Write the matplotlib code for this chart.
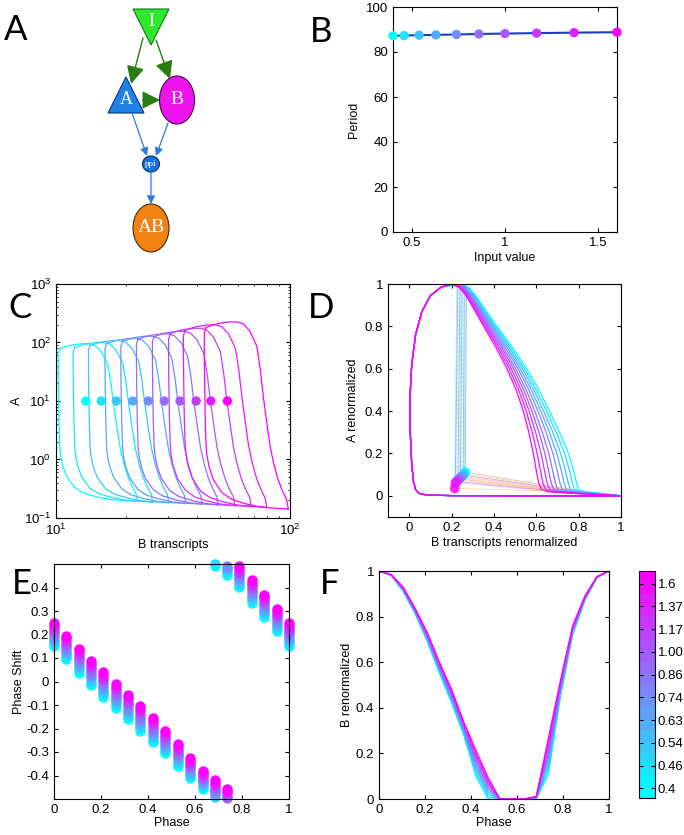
import numpy as np
import matplotlib
matplotlib.use("Agg")
import matplotlib.pyplot as plt
from matplotlib.patches import Polygon, Ellipse, FancyArrowPatch
from matplotlib.colors import Normalize
from matplotlib.cm import ScalarMappable
from matplotlib.ticker import NullFormatter

plt.rcParams['font.family'] = ['Liberation Sans', 'DejaVu Sans']
plt.rcParams['font.size'] = 9
plt.rcParams['xtick.labelsize'] = 9.5
plt.rcParams['ytick.labelsize'] = 9.5
plt.rcParams['axes.unicode_minus'] = False
plt.rcParams['axes.linewidth'] = 0.8
plt.rcParams['xtick.direction'] = 'in'
plt.rcParams['ytick.direction'] = 'in'
plt.rcParams['xtick.top'] = True
plt.rcParams['ytick.right'] = True
plt.rcParams['xtick.major.size'] = 3
plt.rcParams['ytick.major.size'] = 3
plt.rcParams['xtick.minor.size'] = 1.5
plt.rcParams['ytick.minor.size'] = 1.5

# Datos
entradas = [0.4, 0.46, 0.54, 0.63, 0.74, 0.86, 1.00, 1.17, 1.37, 1.6]
etiquetas_entrada = ['0.4', '0.46', '0.54', '0.63', '0.74', '0.86', '1.00', '1.17', '1.37', '1.6']
periodo = [87.2, 87.3, 87.5, 87.6, 87.8, 88.0, 88.2, 88.4, 88.6, 88.8]

# C: ciclos limite (forma base normalizada + extremos de cada ciclo)
ciclo_u = [0.035, 0.16, 0.30, 0.40, 0.47, 0.55, 0.63, 0.67, 0.707, 0.745, 0.786, 0.83, 0.88,
           0.93, 0.98, 1.0, 0.97, 0.80, 0.66, 0.50, 0.33, 0.22, 0.12, 0.07, 0.045, 0.035,
           0.025, 0.018, 0.015, 0.015, 0.035]
ciclo_v = [0.97, 0.99, 1.0, 1.0, 0.99, 0.95, 0.87, 0.75, 0.60, 0.47, 0.336, 0.24, 0.159,
           0.10, 0.053, 0.0, 0.003, 0.008, 0.014, 0.03, 0.055, 0.09, 0.16, 0.23, 0.29, 0.346,
           0.50, 0.70, 0.85, 0.94, 0.97]
B_izq = [10.1, 11.7, 13.6, 16.0, 18.7, 21.8, 25.5, 29.9, 34.6, 42.5]
B_der = [22.3, 25.9, 30.4, 35.9, 42.2, 49.4, 58.2, 68.4, 79.6, 98.4]
A_max = [95, 100, 108, 117, 128, 140, 155, 175, 200, 225]
A_min = [0.19, 0.185, 0.18, 0.175, 0.17, 0.165, 0.16, 0.155, 0.15, 0.14]
puntos_B = [13.4, 15.6, 18.1, 21.3, 24.8, 29.0, 33.9, 39.7, 45.9, 54.0]

# D: ciclos renormalizados
lado_izq_x = [0.15, 0.10, 0.06, 0.03, 0.012, 0.003, 0.005, 0.012, 0.02, 0.03, 0.045, 0.08, 0.2, 0.5]
lado_izq_y = [0.985, 0.945, 0.87, 0.76, 0.62, 0.45, 0.30, 0.15, 0.07, 0.03, 0.012, 0.004, 0.001, 0.0]
lado_der_y = [1.0, 0.985, 0.95, 0.9, 0.8, 0.7, 0.6, 0.5, 0.4, 0.3, 0.2, 0.12, 0.06, 0.03,
              0.02, 0.013, 0.007, 0.0]
lado_der_magenta = [0.194, 0.235, 0.265, 0.295, 0.352, 0.41, 0.462, 0.505, 0.539, 0.565,
                    0.586, 0.60, 0.612, 0.625, 0.65, 0.75, 0.85, 1.0]
lado_der_cian = [0.24, 0.28, 0.31, 0.345, 0.415, 0.488, 0.555, 0.612, 0.662, 0.71,
                 0.752, 0.776, 0.79, 0.80, 0.83, 0.90, 0.95, 1.0]
mezcla = [0.0, 0.11, 0.22, 0.33, 0.44, 0.56, 0.67, 0.78, 0.89, 1.0]  # cian -> magenta
puntos_D_x = [0.265, 0.26, 0.255, 0.248, 0.242, 0.236, 0.23, 0.224, 0.218, 0.215]
puntos_D_y = [0.112, 0.105, 0.098, 0.092, 0.086, 0.08, 0.074, 0.068, 0.062, 0.035]
tope_D_x = [0.27, 0.265, 0.26, 0.255, 0.25, 0.245, 0.24, 0.235, 0.23, 0.225]
fin_D_x = [0.80, 0.78, 0.76, 0.74, 0.72, 0.70, 0.68, 0.66, 0.64, 0.62]

# E y F: respuesta de fase
fase = [0, 0.053, 0.105, 0.158, 0.21, 0.263, 0.316, 0.368, 0.421, 0.474,
        0.526, 0.579, 0.632, 0.684, 0.737, 0.789, 0.842, 0.895, 0.947, 1.0]
desfase_magenta = [0.249, 0.195, 0.14, 0.088, 0.04, -0.012, -0.056, -0.104, -0.156, -0.21,
                   -0.266, -0.327, -0.379, -0.421, -0.456, -0.508, -0.57, -0.63, -0.69, -0.751]
desfase_cian = [0.150, 0.094, 0.037, -0.016, -0.066, -0.111, -0.16, -0.21, -0.259, -0.304,
                -0.358, -0.411, -0.459, -0.51, -0.546, -0.599, -0.666, -0.725, -0.785, -0.85]
B_magenta = [1.0, 0.985, 0.93, 0.835, 0.73, 0.60, 0.48, 0.34, 0.215, 0.095,
             0.0, 0.0, 0.0, 0.012, 0.27, 0.52, 0.76, 0.89, 0.975, 1.0]
B_cian = [1.0, 0.98, 0.91, 0.81, 0.69, 0.55, 0.42, 0.28, 0.10, 0.0,
          0.0, 0.0, 0.0, 0.0, 0.11, 0.45, 0.72, 0.87, 0.97, 1.0]

colores = plt.cm.cool(np.linspace(0, 1, len(entradas)))

fig = plt.figure(figsize=(6.84, 8.35), dpi=100)
W, H = 684, 835


def caja(x0, y0, x1, y1):
    # pixeles (arriba-izquierda) -> fraccion de figura
    return [x0 / W, 1 - y1 / H, (x1 - x0) / W, (y1 - y0) / H]


# ---- A: red ----
axA = fig.add_axes([0, 0, 1, 1])
axA.set_xlim(0, W)
axA.set_ylim(H, 0)
axA.axis('off')
axA.add_patch(Polygon([(133, 9), (169, 9), (151, 45)], fc='#2ee82e', ec='#127a12', lw=0.8))
axA.add_patch(Polygon([(126, 77), (108, 113), (144, 113)], fc='#1f82ea', ec='#0b3470', lw=0.8))
axA.add_patch(Ellipse((177, 100), 35, 48, fc='#f014f0', ec='#4a004a', lw=0.8))
axA.add_patch(Ellipse((151, 164), 17, 16, fc='#1a72e2', ec='#0a2c60', lw=0.8))
axA.add_patch(Ellipse((151, 228), 36, 48, fc='#f08214', ec='#4a2800', lw=0.8))
fuente_red = dict(family=['Liberation Serif', 'DejaVu Serif'], color='white', ha='center', va='center')
axA.text(151, 22, 'I', fontsize=13, **fuente_red)
axA.text(126, 100, 'A', fontsize=13, **fuente_red)
axA.text(177, 100, 'B', fontsize=14, **fuente_red)
axA.text(151, 164, 'ppi', fontsize=6.5, **fuente_red)
axA.text(151, 228, 'AB', fontsize=14, **fuente_red)
for p0, p1 in [((143, 38), (131, 84)), ((156, 40), (170, 79)), ((143, 100), (160, 100))]:
    axA.add_patch(FancyArrowPatch(p0, p1, arrowstyle='-|>,head_length=1.0,head_width=0.5',
                                  mutation_scale=11, color='#2a7d12', lw=1.0,
                                  shrinkA=0, shrinkB=0))
for p0, p1 in [((132, 113), (147, 156)), ((168, 123), (156, 156)), ((151, 172), (151, 204))]:
    axA.add_patch(FancyArrowPatch(p0, p1, arrowstyle='-|>,head_length=0.6,head_width=0.3',
                                  mutation_scale=8, color='#2a7ae8', lw=0.9,
                                  shrinkA=0, shrinkB=0))

# ---- B: periodo ----
axB = fig.add_axes(caja(393, 7, 617, 232))
axB.plot(entradas, periodo, color='#1f3cbf', lw=1.5, zorder=2)
axB.scatter(entradas, periodo, c=colores, s=45, zorder=3, clip_on=False, edgecolors='none')
axB.set_xlim(0.4, 1.6)
axB.set_ylim(0, 100)
axB.set_xticks([0.5, 1, 1.5])
axB.set_xticklabels(['0.5', '1', '1.5'])
axB.set_yticks([0, 20, 40, 60, 80, 100])
axB.set_xlabel('Input value', labelpad=2)
axB.set_ylabel('Period')

# ---- C: ciclos en log-log ----
axC = fig.add_axes(caja(56, 284, 290, 518))
u = np.array(ciclo_u)
v = np.array(ciclo_v)
for i in range(len(entradas)):
    lb = np.log10(B_izq[i]) + u * (np.log10(B_der[i]) - np.log10(B_izq[i]))
    la = np.log10(A_min[i]) + v * (np.log10(A_max[i]) - np.log10(A_min[i]))
    axC.plot(10 ** lb, 10 ** la, color=colores[i], lw=0.9)
axC.scatter(puntos_B, [10] * len(puntos_B), c=colores, s=45, zorder=3, edgecolors='none')
axC.set_xscale('log')
axC.set_yscale('log')
axC.set_xlim(10, 100)
axC.set_ylim(0.1, 1000)
axC.xaxis.set_minor_formatter(NullFormatter())
axC.yaxis.set_minor_formatter(NullFormatter())
axC.set_xlabel('B transcripts', labelpad=1)
axC.set_ylabel('A', labelpad=1)

# ---- D: ciclos renormalizados ----
axD = fig.add_axes(caja(388, 284, 621, 517))
vert_col = ['#0072BD', '#4DBEEE']
hor_col = ['#D95319', '#EDB120', '#7E2F8E', '#FF44FF', '#EDB120']
for i in range(len(entradas)):
    der = (1 - mezcla[i]) * np.array(lado_der_cian) + mezcla[i] * np.array(lado_der_magenta)
    xs = [der[0]] + lado_izq_x + list(der[::-1])
    ys = [1.0] + lado_izq_y + lado_der_y[::-1]
    axD.plot(xs, ys, color=colores[i], lw=0.9, zorder=2)
for i in range(len(entradas)):
    axD.plot([puntos_D_x[i], tope_D_x[i]], [puntos_D_y[i], 1.0], color=vert_col[i % 2],
             lw=0.6, alpha=0.45, ls='--' if i % 4 == 3 else '-', zorder=1)
    axD.plot([puntos_D_x[i], fin_D_x[i]], [puntos_D_y[i], 0.025], color=hor_col[i % 5],
             lw=0.6, alpha=0.4, zorder=1)
axD.scatter(puntos_D_x, puntos_D_y, c=colores, s=50, alpha=0.85, zorder=3, edgecolors='none')
axD.set_xlim(-0.1, 1)
axD.set_ylim(-0.1, 1)
axD.set_xticks([0, 0.2, 0.4, 0.6, 0.8, 1])
axD.set_xticklabels(['0', '0.2', '0.4', '0.6', '0.8', '1'])
axD.set_yticks([0, 0.2, 0.4, 0.6, 0.8, 1])
axD.set_yticklabels(['0', '0.2', '0.4', '0.6', '0.8', '1'])
axD.set_xlabel('B transcripts renormalized', labelpad=2)
axD.set_ylabel('A renormalized')

# ---- E: desfase ----
axE = fig.add_axes(caja(54, 564, 289, 799))
for i in range(len(entradas)):
    d = (1 - mezcla[i]) * np.array(desfase_cian) + mezcla[i] * np.array(desfase_magenta)
    d = (d + 0.5) % 1 - 0.5
    axE.plot(fase, d, 'o', color=colores[i], ms=7.5, mec='none', clip_on=False)
axE.set_xlim(0, 1)
axE.set_ylim(-0.5, 0.5)
axE.set_xticks([0, 0.2, 0.4, 0.6, 0.8, 1])
axE.set_xticklabels(['0', '0.2', '0.4', '0.6', '0.8', '1'])
axE.set_yticks([-0.4, -0.3, -0.2, -0.1, 0, 0.1, 0.2, 0.3, 0.4])
axE.set_yticklabels(['-0.4', '-0.3', '-0.2', '-0.1', '0', '0.1', '0.2', '0.3', '0.4'])
axE.set_xlabel('Phase', labelpad=1)
axE.set_ylabel('Phase Shift', labelpad=1)

# ---- F: B renormalizado ----
axF = fig.add_axes(caja(379, 571, 609, 799))
for i in range(len(entradas)):
    b = (1 - mezcla[i]) * np.array(B_cian) + mezcla[i] * np.array(B_magenta)
    axF.plot(fase, b, color=colores[i], lw=0.9)
axF.set_xlim(0, 1)
axF.set_ylim(0, 1)
axF.set_xticks([0, 0.2, 0.4, 0.6, 0.8, 1])
axF.set_xticklabels(['0', '0.2', '0.4', '0.6', '0.8', '1'])
axF.set_yticks([0, 0.2, 0.4, 0.6, 0.8, 1])
axF.set_yticklabels(['0', '0.2', '0.4', '0.6', '0.8', '1'])
axF.set_xlabel('Phase', labelpad=1)
axF.set_ylabel('B renormalized', labelpad=2)

# barra de color
cax = fig.add_axes(caja(639, 571, 655, 798))
sm = ScalarMappable(norm=Normalize(-0.42, 9.56), cmap=plt.get_cmap('cool', 20))
cb = fig.colorbar(sm, cax=cax, ticks=range(10))
cb.ax.set_yticklabels(etiquetas_entrada)
cb.ax.tick_params(direction='in', left=True, right=True, length=3, pad=2, labelsize=9.5)
cb.outline.set_linewidth(0.8)

# letras de panel
letras = {'A': (4, 40), 'B': (310, 42), 'C': (8, 318), 'D': (308, 318), 'E': (12, 594), 'F': (320, 594)}
for letra, (x, y) in letras.items():
    fig.text(x / W, 1 - y / H, letra, fontsize=25, family=['Lato', 'DejaVu Sans'], va='baseline')

fig.savefig('out.png', dpi=100)
